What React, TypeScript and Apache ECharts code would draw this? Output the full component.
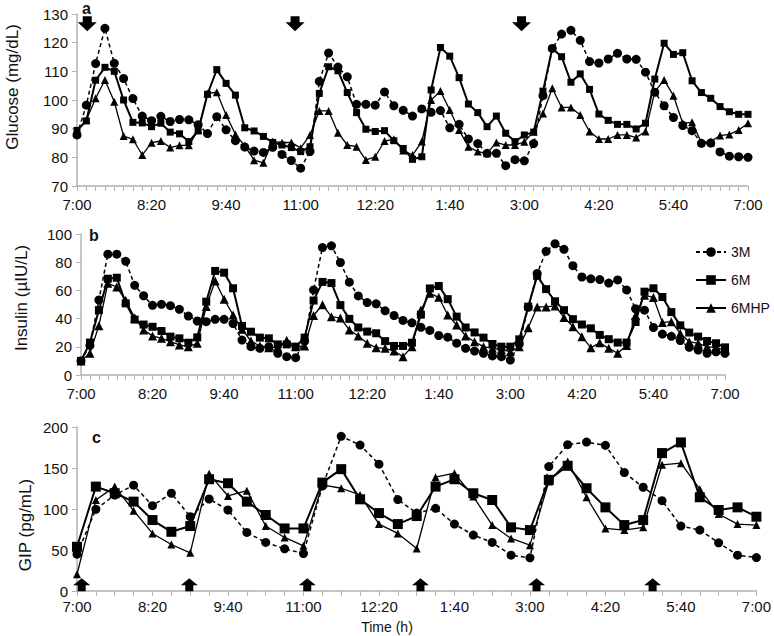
import React, { useEffect, useRef } from "react";
import * as echarts from "echarts";

// Tick labels of the time axis (every 80 minutes from 7:00 to 7:00)
const tickLabels = ["7:00", "8:20", "9:40", "11:00", "12:20", "1:40", "3:00", "4:20", "5:40", "7:00"];
// Sampling times, minutes after 7:00
const minutes10 = Array.from({ length: 73 }, (_, k) => k * 10);
const minutes20 = Array.from({ length: 37 }, (_, k) => k * 20);

// Panel a: glucose (mg/dL), every 10 min
const glucose3M = [87.8, 98.2, 112.7, 125, 112.8, 107.5, 100.5, 94.4, 92.8, 94.3, 92.5, 93.2, 93.1, 91.4, 88.3, 94.2, 89.6, 85.8, 83.6, 82.2, 81.7, 83.5, 81, 78.9, 76.2, 82, 106.5, 116.4, 111.5, 108.1, 98.5, 98.5, 98.2, 102.8, 98, 96.4, 94.4, 96.9, 95.7, 96.3, 90.3, 91.5, 86.4, 84.8, 81.4, 81.4, 77.1, 79.2, 78.8, 84.8, 101.5, 118, 123, 124.3, 120.8, 113.4, 112.9, 114.3, 116.3, 114.3, 114.2, 109.7, 102.7, 98, 93.9, 91.1, 89.3, 84.9, 85, 81.9, 80.4, 80.2, 80];
const glucose6M = [89.4, 92.7, 106.9, 111.4, 110, 100, 92.2, 92, 90.7, 91.9, 88.8, 88.2, 85.5, 89.2, 102, 110.6, 105.8, 101.7, 90.3, 89.2, 87.3, 85.2, 84.3, 83.4, 82, 83.7, 102.3, 111.6, 110.2, 102.6, 95.6, 89.8, 89, 89.3, 85.8, 83.1, 79.3, 80.2, 103.5, 118.3, 115.3, 107.8, 98.6, 95.6, 90.7, 94.4, 88.4, 85.5, 87.8, 88.8, 103.1, 118, 115.1, 106.2, 109.1, 103.7, 95.1, 92.9, 91.5, 91.5, 89.9, 91.9, 107.3, 119.8, 115.9, 116.5, 106.7, 102.6, 100.6, 97.7, 95.9, 95, 95];
const glucose6MHP = [89.2, 93, 100.6, 107, 99.4, 87.4, 86.3, 80.8, 85.1, 85.7, 83.4, 84.2, 84.2, 89.5, 102.3, 102.7, 94.8, 88, 84, 79, 78.1, 85.5, 85.1, 85.2, 83.2, 87.8, 96.2, 96.2, 88.6, 84.3, 83.7, 79.1, 80.2, 85.7, 86.3, 82.4, 80.8, 85.5, 100, 103.1, 96.5, 89.5, 83.7, 82, 81.4, 85.2, 84.3, 84.3, 85.4, 89, 95.3, 104.1, 97.4, 97.4, 94.8, 89, 86.4, 86.4, 87.8, 87.8, 86.9, 89, 102.9, 107, 101.5, 91.9, 92.2, 85.2, 85.5, 87.6, 88, 89.5, 91.9];

// Panel b: insulin (µIU/L), every 10 min
const insulin3M = [10, 21, 53.2, 85.7, 85.7, 80.6, 63.6, 56.2, 49.4, 50.1, 49.2, 46.6, 41.8, 38.3, 37.8, 39.5, 39.5, 36.5, 24.8, 20.1, 18.9, 20.1, 15.4, 13, 12.3, 24, 60.3, 90.4, 91.6, 79.8, 65.8, 56.1, 51.4, 50.5, 45.5, 42.2, 38.7, 37, 33.8, 31.6, 28, 26.8, 22.6, 18.9, 17, 15.4, 13.5, 13, 10.6, 22, 48, 72, 87.7, 93.1, 89.1, 77.5, 69.5, 68.2, 67.7, 65.2, 67.4, 60.3, 47, 46, 33.7, 29, 27.4, 24.4, 19.6, 17.7, 15.4, 16.5, 15.4];
const insulin6M = [10, 23, 46, 68.3, 69, 50.8, 39.3, 35.8, 34.2, 31.2, 27.2, 26, 22.9, 26.7, 52, 73.8, 72.6, 61.5, 34.8, 30.7, 26.5, 26, 21.7, 21.7, 20.1, 26.5, 52.8, 66, 65.2, 49.6, 39.8, 33.7, 30.8, 29.6, 24, 20.6, 20.6, 22.9, 42.8, 61.4, 63.1, 53.8, 41.4, 33.7, 30.2, 26.5, 22, 20.1, 20.1, 25.3, 48.5, 70.3, 60.9, 52.3, 46, 39.6, 35.8, 33.1, 28.4, 25.4, 23, 23, 37.6, 59.1, 61.5, 55.3, 44.6, 35.2, 30.1, 27.2, 24.1, 22.5, 19.6];
const insulin6MHP = [10, 15.4, 35, 65, 62.4, 53, 40.6, 32, 27.7, 26, 23.6, 21.3, 20.1, 22.5, 48.5, 66.7, 53.7, 42.6, 32.4, 24.1, 20.6, 19.4, 19.6, 24.6, 20.1, 20.6, 42.2, 49.8, 41.4, 40.4, 32, 27.7, 22.5, 19.4, 18.9, 17, 13, 20.1, 46.1, 57.9, 55.1, 42.6, 35.5, 27.7, 23.6, 20.1, 18.9, 18, 16.5, 20, 33.5, 48.3, 48.3, 49, 40.8, 34.3, 27.2, 19.4, 22.9, 18.9, 15.4, 21, 42.2, 56.5, 55, 37.2, 37.8, 29.5, 23.6, 22.5, 20.1, 19.4, 17.7];

// Panel c: GIP (pg/mL), every 20 min
const gip3M = [44.9, 99.6, 117, 129, 104, 119.2, 90.6, 112.2, 98.8, 71.4, 59.2, 51.4, 45.7, 128, 188.6, 178, 154.7, 111.5, 95, 100.8, 81.6, 68.2, 59.2, 43.7, 40.4, 151.8, 178.4, 181.6, 177.6, 144.5, 126.5, 110.2, 79.2, 74.3, 58.8, 43.7, 40.8];
const gip6M = [53.9, 127.3, 119.2, 109, 86.5, 72.2, 79.2, 136.3, 131.4, 109, 92.7, 76.3, 76.3, 132.2, 148.6, 111.8, 95, 81.6, 91.4, 127.3, 136.3, 119.2, 111, 77.6, 74.3, 135.5, 152.7, 125.3, 102, 80.4, 86.5, 168.2, 181.2, 114.3, 98.8, 102, 90.6];
const gip6MHP = [20.4, 111, 127.3, 98, 70.2, 56.7, 46.5, 142.9, 115.9, 122.4, 79.2, 65.3, 55.1, 129.4, 125.3, 117.1, 81.6, 70.2, 51.8, 138.8, 143.7, 115.1, 80.4, 64.1, 55.9, 133.5, 158, 114.3, 76.3, 74.3, 77.6, 153.9, 155.9, 124.1, 93.9, 81.6, 80.4];

// Meal / snack arrows (minutes after 7:00)
const arrowsDown = [11, 234, 477];
const arrowsUp = [5, 119, 244, 364, 487, 610];

const FONT = "'Liberation Sans', Arial, sans-serif";
const AXIS_GRAY = "#b3b3b3";

const pairs = (xs: number[], ys: number[]) => ys.map((v, k) => [xs[k], v]);

function xAxisCfg(gridIndex: number, minorSplit: number, margin: number) {
  return {
    type: "value",
    gridIndex,
    min: 0,
    max: 720,
    interval: 80,
    axisLine: { show: true, lineStyle: { color: AXIS_GRAY, width: 1.5 } },
    axisTick: { show: true, length: 5, lineStyle: { color: AXIS_GRAY, width: 1 } },
    minorTick: { show: true, splitNumber: minorSplit, length: 5, lineStyle: { color: AXIS_GRAY, width: 1 } },
    splitLine: { show: false },
    axisLabel: {
      margin,
      fontSize: 15,
      lineHeight: 15,
      fontFamily: FONT,
      color: "#111",
      formatter: (v: number) => tickLabels[Math.round(v / 80)] ?? "",
    },
  };
}

function yAxisCfg(gridIndex: number, min: number, max: number, interval: number) {
  return {
    type: "value",
    gridIndex,
    min,
    max,
    interval,
    axisLine: { show: true, lineStyle: { color: AXIS_GRAY, width: 1.5 } },
    axisTick: { show: true, length: 5, lineStyle: { color: AXIS_GRAY, width: 1 } },
    splitLine: { show: false },
    axisLabel: { margin: 9, fontSize: 15, lineHeight: 14, fontFamily: FONT, color: "#111" },
  };
}

function lineSeries(
  name: string,
  idx: number,
  xs: number[],
  ys: number[],
  sizes: { c: number; s: number; t: number }
) {
  const kind = name === "3M" ? "c" : name === "6M" ? "s" : "t";
  return {
    name,
    type: "line",
    xAxisIndex: idx,
    yAxisIndex: idx,
    data: pairs(xs, ys),
    symbol: kind === "c" ? "circle" : kind === "s" ? "rect" : "triangle",
    symbolSize: sizes[kind],
    showSymbol: true,
    lineStyle: {
      color: "#000",
      width: kind === "c" ? 1.5 : kind === "s" ? 2 : 1.3,
      type: kind === "c" ? [4, 3] : "solid",
    },
    itemStyle: { color: "#000", borderWidth: 0 },
    emphasis: { disabled: true },
    z: kind === "c" ? 3 : kind === "s" ? 4 : 5,
  };
}

export default function App() {
  const ref = useRef<HTMLDivElement>(null);
  useEffect(() => {
    if (!ref.current) return;
    const chart = echarts.init(ref.current, undefined, { renderer: "svg" });
    const sA = { c: 9, s: 7, t: 8 };
    const sB = { c: 9, s: 8, t: 9 };
    const sC = { c: 9, s: 10, t: 8 };
    const option: any = {
      animation: false,
      backgroundColor: "#fff",
      textStyle: { fontFamily: FONT },
      grid: [
        { left: 77, top: 14, width: 671, height: 172 },
        { left: 81, top: 234, width: 644, height: 141 },
        { left: 77, top: 427, width: 681, height: 164 },
      ],
      xAxis: [xAxisCfg(0, 8, 11), xAxisCfg(1, 8, 11), xAxisCfg(2, 4, 8)],
      yAxis: [yAxisCfg(0, 70, 130, 10), yAxisCfg(1, 0, 100, 20), yAxisCfg(2, 0, 200, 50)],
      legend: {
        data: ["3M", "6M", "6MHP"],
        orient: "vertical",
        left: 695,
        top: 245,
        padding: 0,
        itemWidth: 30,
        itemHeight: 12,
        itemGap: 14,
        textStyle: { fontSize: 14, fontFamily: FONT, color: "#111" },
      },
      series: [
        lineSeries("3M", 0, minutes10, glucose3M, sA),
        lineSeries("6M", 0, minutes10, glucose6M, sA),
        lineSeries("6MHP", 0, minutes10, glucose6MHP, sA),
        lineSeries("3M", 1, minutes10, insulin3M, sB),
        lineSeries("6M", 1, minutes10, insulin6M, sB),
        lineSeries("6MHP", 1, minutes10, insulin6MHP, sB),
        lineSeries("3M", 2, minutes20, gip3M, sC),
        lineSeries("6M", 2, minutes20, gip6M, sC),
        lineSeries("6MHP", 2, minutes20, gip6MHP, sC),
        {
          type: "scatter",
          xAxisIndex: 0,
          yAxisIndex: 0,
          data: arrowsDown.map((t) => [t, 126.6]),
          symbol: "path://M5,0H14V6H19L9.5,15L0,6H5Z",
          symbolSize: [19, 15],
          itemStyle: { color: "#000", opacity: 1 },
          silent: true,
          clip: false,
        },
        {
          type: "scatter",
          xAxisIndex: 2,
          yAxisIndex: 2,
          data: arrowsUp.map((t) => [t, 7.6]),
          symbol: "path://M8.5,0L17,7H12.5V13H4.5V7H0Z",
          symbolSize: [17, 13],
          itemStyle: { color: "#000", opacity: 1 },
          silent: true,
          clip: false,
        },
      ],
      graphic: [
        { type: "text", left: 82, top: 0, style: { text: "a", font: `bold 16px ${FONT}`, fill: "#111" } },
        { type: "text", left: 89, top: 227, style: { text: "b", font: `bold 16px ${FONT}`, fill: "#111" } },
        { type: "text", left: 92, top: 429, style: { text: "c", font: `bold 16px ${FONT}`, fill: "#111" } },
        {
          type: "text",
          x: 12,
          y: 87,
          rotation: Math.PI / 2,
          style: { text: "Glucose (mg/dL)", font: `17px ${FONT}`, fill: "#111", align: "center", verticalAlign: "middle" },
        },
        {
          type: "text",
          x: 21,
          y: 298,
          rotation: Math.PI / 2,
          style: { text: "Insulin (µIU/L)", font: `17px ${FONT}`, fill: "#111", align: "center", verticalAlign: "middle" },
        },
        {
          type: "text",
          x: 25,
          y: 525,
          rotation: Math.PI / 2,
          style: { text: "GIP (pg/mL)", font: `17px ${FONT}`, fill: "#111", align: "center", verticalAlign: "middle" },
        },
        {
          type: "text",
          x: 387,
          y: 627,
          style: { text: "Time (h)", font: `14px ${FONT}`, fill: "#111", align: "center", verticalAlign: "middle" },
        },
      ],
    };
    chart.setOption(option);
    return () => chart.dispose();
  }, []);
  return <div ref={ref} style={{ width: 774, height: 636, position: "absolute", left: 0, top: 0 }} />;
}
